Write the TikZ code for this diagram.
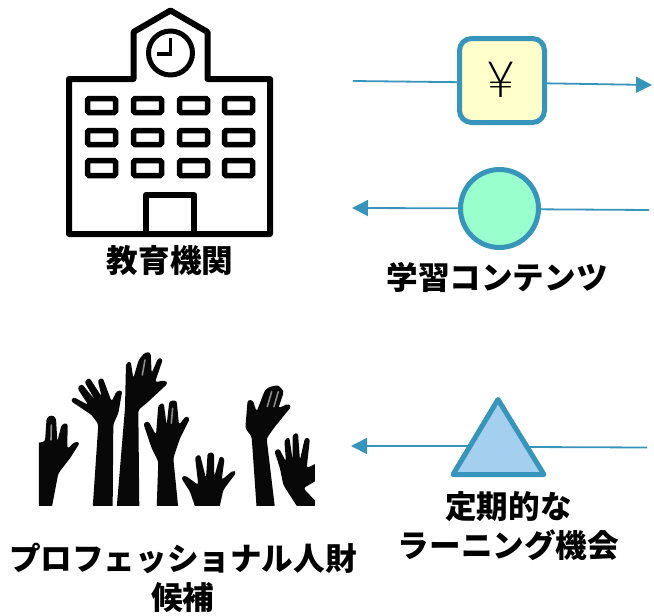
\documentclass[tikz,border=0pt]{standalone}
\usepackage{fontspec}
\newfontfamily\jp{Noto Sans CJK JP}
\newfontfamily\yenfont{Lato Light}
\usetikzlibrary{arrows.meta,shapes.geometric}
\definecolor{flowblue}{HTML}{3794BB}
\definecolor{yenfill}{HTML}{FFFFCC}
\definecolor{circfill}{HTML}{99FFCC}
\definecolor{trifill}{HTML}{A4CFEE}
\tikzset{
  flow/.style={draw=flowblue,line width=1.8pt},
  flowarrow/.style={flow,-{Triangle[length=16pt,width=16pt]}},
  symbolline/.style={draw=flowblue,line width=5pt,line join=round},
  bldg/.style={draw=black,line width=6pt,line join=round},
  win/.style={draw=black,line width=5.5pt,rounded corners=1.5pt},
  hand/.style={fill=black!97,rounded corners=2.6pt},
  slit/.style={draw=black!45,line width=1.6pt,line cap=round},
  label/.style={font=\jp\bfseries\fontsize{31.6}{38.5}\selectfont,align=center,inner sep=0pt,text=black}
}
\begin{document}
\begin{tikzpicture}[x=1pt,y=-1pt]
\useasboundingbox (0,0) rectangle (654,616);
% building
\draw[bldg] (69,79) -- (133.5,79) -- (133.5,32) -- (170.5,10.5) -- (207.5,32) -- (207.5,79) -- (270,79) -- (270,234) -- (69,234) -- cycle;
\draw[bldg,line width=5pt] (170.5,53) circle (22);
\draw[draw=black,line width=3.5pt,line join=miter] (170.5,38) -- (170.5,54) -- (157,54);
\foreach \wx in {87.5,133.5,179.5,224.5}{
  \foreach \wy/\wh in {98.5/14,130.5/14,160.5/15}{
    \draw[win] (\wx,\wy) rectangle ++(28,\wh);
  }
}
\draw[bldg] (146,234) -- (146,195) -- (194,195) -- (194,234);
% hands
\begin{scope}[x=0.3333pt,y=-0.3333pt,shift={(90,1035)}]
\clip (27,20) rectangle (855,482);
\fill[hand] (15,482) -- (15,295) -- (45,290) -- (50,218) -- (65,210) -- (78,218) -- (82,290) -- (95,238) -- (113,234) -- (112,312) -- (135,290) -- (150,293) -- (120,340) -- (85,385) -- (65,490) -- cycle;
\fill[hand] (188,490) -- (205,238) -- (185,210) -- (122,168) -- (130,156) -- (175,180) -- (142,130) -- (155,116) -- (195,165) -- (163,110) -- (178,98) -- (215,155) -- (203,105) -- (218,98) -- (245,170) -- (260,138) -- (277,136) -- (265,205) -- (250,238) -- (248,490) -- cycle;
\fill[hand] (260,490) -- (285,190) -- (288,55) -- (302,48) -- (310,100) -- (326,45) -- (345,22) -- (362,22) -- (365,85) -- (385,38) -- (399,42) -- (375,112) -- (405,106) -- (414,115) -- (355,170) -- (325,195) -- (328,490) -- cycle;
\fill[hand] (380,490) -- (385,350) -- (365,310) -- (340,235) -- (355,228) -- (378,270) -- (385,180) -- (401,173) -- (410,240) -- (418,168) -- (440,166) -- (447,240) -- (468,213) -- (480,220) -- (450,280) -- (430,340) -- (445,490) -- cycle;
\fill[hand] (497,490) -- (480,440) -- (453,398) -- (465,391) -- (505,420) -- (495,335) -- (510,328) -- (528,400) -- (533,323) -- (552,323) -- (553,395) -- (570,333) -- (584,340) -- (575,405) -- (610,376) -- (619,383) -- (580,435) -- (568,490) -- cycle;
\fill[hand] (680,490) -- (665,275) -- (646,250) -- (653,165) -- (668,165) -- (680,200) -- (705,135) -- (718,126) -- (745,120) -- (762,140) -- (745,190) -- (775,176) -- (784,185) -- (735,245) -- (710,280) -- (735,490) -- cycle;
\fill[hand] (805,490) -- (760,420) -- (750,370) -- (733,318) -- (747,310) -- (768,350) -- (763,285) -- (778,276) -- (788,345) -- (788,268) -- (804,263) -- (810,345) -- (825,278) -- (840,280) -- (830,370) -- (870,350) -- (870,400) -- (820,430) -- (870,482) -- (870,490) -- cycle;
\draw[slit] (64,240) -- (63,285);
\draw[slit] (345,45) -- (337,90);
\draw[slit] (428,190) -- (424,235);
\draw[slit] (725,140) -- (712,185);
\draw[slit] (745,140) -- (732,185);
\end{scope}
% symbols
\node[symbolline,fill=yenfill,rounded corners=12pt,minimum width=85pt,minimum height=84pt,inner sep=0pt,outer sep=0pt] (yen) at (502,80.5) {};
\node[inner sep=0pt] (yentext) at (500.5,79.5) {\yenfont\fontsize{50}{50}\selectfont ¥};
\node[symbolline,fill=circfill,circle,minimum size=78pt,inner sep=0pt,outer sep=0pt] (coin) at (499.5,208.5) {};
\draw[symbolline,fill=trifill] (498,399.5) -- (544,474.5) -- (453,474.5) -- cycle;
% connector ends
\coordinate (a1) at (353,81);
\coordinate (a2) at (652,85);
\coordinate (b1) at (352,208);
\coordinate (b2) at (649,210);
\coordinate (c1) at (351,446);
\coordinate (c2) at (647,447.5);
\coordinate (triW) at (472,446);
\coordinate (triE) at (527,447);
\draw[flow] (a1) -- ([yshift=-1.7pt]yen.west);
\draw[flowarrow] ([yshift=-2.8pt]yen.east) -- (a2);
\draw[flowarrow] ([yshift=0.2pt]coin.west) -- (b1);
\draw[flow] ([yshift=-0.8pt]coin.east) -- (b2);
\draw[flowarrow] (triW) -- (c1);
\draw[flow] (triE) -- (c2);
% labels
\node[label] (l1) at (170,261) {教育機関};
\node[label] (l2) at (497,277) {学習コンテンツ};
\node[label] (l3) at (508.5,526) {定期的な\\ラーニング機会};
\node[label] (l4) at (183,578) {プロフェッショナル人財\\候補};
\end{tikzpicture}
\end{document}
